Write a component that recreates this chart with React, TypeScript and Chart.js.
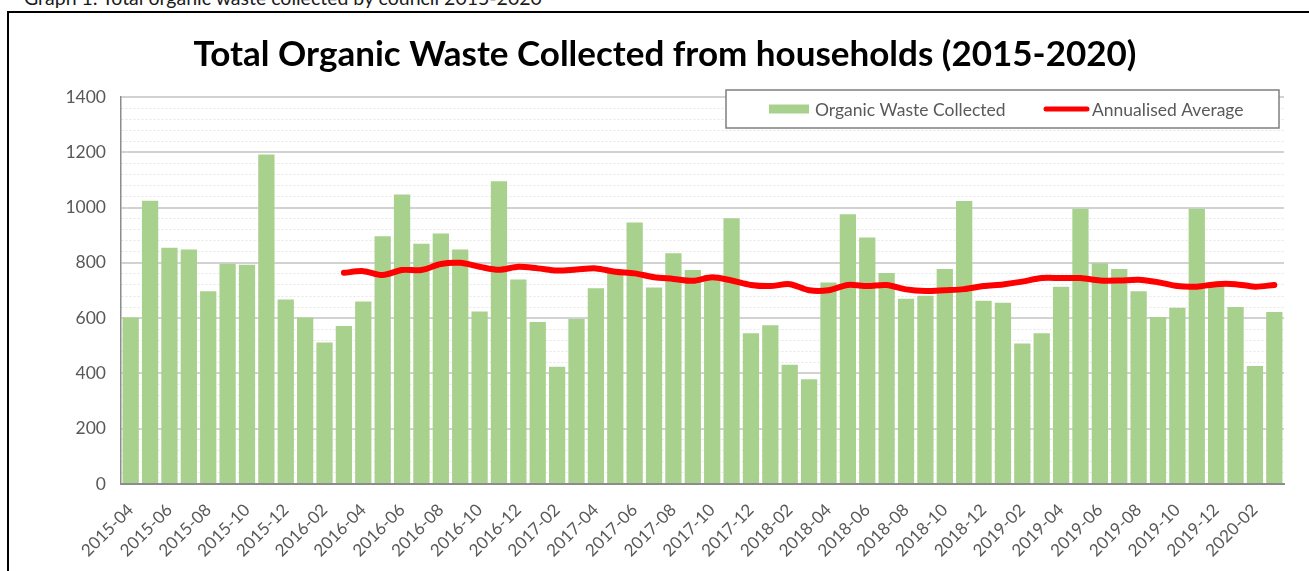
import React, { useEffect, useRef } from 'react';
import { Chart, registerables } from 'chart.js';

Chart.register(...registerables);

const months: string[] = [
  '2015-04', '2015-05', '2015-06', '2015-07', '2015-08', '2015-09', '2015-10', '2015-11', '2015-12',
  '2016-01', '2016-02', '2016-03', '2016-04', '2016-05', '2016-06', '2016-07', '2016-08', '2016-09', '2016-10', '2016-11', '2016-12',
  '2017-01', '2017-02', '2017-03', '2017-04', '2017-05', '2017-06', '2017-07', '2017-08', '2017-09', '2017-10', '2017-11', '2017-12',
  '2018-01', '2018-02', '2018-03', '2018-04', '2018-05', '2018-06', '2018-07', '2018-08', '2018-09', '2018-10', '2018-11', '2018-12',
  '2019-01', '2019-02', '2019-03', '2019-04', '2019-05', '2019-06', '2019-07', '2019-08', '2019-09', '2019-10', '2019-11', '2019-12',
  '2020-01', '2020-02', '2020-03',
];

const organicWasteCollected: number[] = [
  602, 1025, 855, 848, 697, 797, 793, 1192, 667,
  602, 512, 572, 660, 896, 1047, 869, 906, 848, 624, 1095, 740,
  586, 424, 597, 708, 765, 946, 711, 835, 774, 755, 961, 545,
  574, 431, 379, 729, 976, 892, 763, 670, 681, 778, 1024, 663,
  656, 508, 545, 714, 996, 799, 778, 697, 604, 638, 996, 714,
  640, 427, 622,
];

const annualisedAverage: (number | null)[] = [
  null, null, null, null, null, null, null, null, null,
  null, null, 764, 770, 756, 774, 774, 796, 800, 786, 775, 786,
  780, 772, 776, 780, 768, 762, 748, 742, 735, 748, 736, 720,
  716, 723, 701, 701, 720, 716, 720, 704, 698, 701, 705, 716,
  722, 732, 745, 745, 745, 736, 736, 739, 730, 716, 714, 723,
  723, 714, 720,
];

const seriesNames = ['Organic Waste Collected', 'Annualised Average'];
const chartTitle = 'Total Organic Waste Collected from households (2015-2020)';
const caption = 'Graph 1: Total organic waste collected by council 2015-2020';
const yMin = 0;
const yMax = 1400;
const yMajorStep = 200;
const yMinorStep = 40;

const FONT = 'Lato, "Open Sans", sans-serif';

const boxLegend = {
  id: 'boxLegend',
  afterDraw(chart: any) {
    const { ctx, chartArea } = chart;
    const right = chartArea.right - 5;
    const left = right - 553;
    const top = chartArea.top - 7;
    const h = 38;
    const cy = top + h / 2;
    ctx.save();
    ctx.fillStyle = '#ffffff';
    ctx.fillRect(left, top, right - left, h);
    ctx.strokeStyle = '#7f7f7f';
    ctx.lineWidth = 1.5;
    ctx.strokeRect(left, top, right - left, h);
    const ds0 = chart.data.datasets[0];
    const ds1 = chart.data.datasets[1];
    ctx.fillStyle = ds0.backgroundColor;
    ctx.fillRect(left + 43, cy - 4.5, 40, 9);
    ctx.font = '17.5px ' + FONT;
    ctx.fillStyle = '#595959';
    ctx.textBaseline = 'middle';
    ctx.textAlign = 'left';
    ctx.fillText(ds0.label, left + 89, cy + 1);
    ctx.strokeStyle = ds1.borderColor;
    ctx.lineWidth = 5;
    ctx.lineCap = 'round';
    ctx.beginPath();
    ctx.moveTo(left + 320, cy);
    ctx.lineTo(left + 361, cy);
    ctx.stroke();
    ctx.fillText(ds1.label, left + 366, cy + 1);
    ctx.restore();
  },
};

export default function App() {
  const canvasRef = useRef<HTMLCanvasElement | null>(null);

  useEffect(() => {
    if (!canvasRef.current) return;
    const chart = new Chart(canvasRef.current, {
      type: 'bar',
      data: {
        labels: months,
        datasets: [
          {
            type: 'bar',
            label: seriesNames[0],
            data: organicWasteCollected,
            backgroundColor: '#A9D18E',
            borderWidth: 0,
            barPercentage: 0.84,
            categoryPercentage: 1.0,
            order: 2,
          } as any,
          {
            type: 'line',
            label: seriesNames[1],
            data: annualisedAverage,
            borderColor: '#FF0000',
            backgroundColor: '#FF0000',
            borderWidth: 6,
            pointRadius: 0,
            tension: 0.3,
            borderCapStyle: 'round',
            borderJoinStyle: 'round',
            spanGaps: false,
            order: 1,
          } as any,
        ],
      },
      options: {
        responsive: false,
        animation: false,
        layout: { padding: { left: 46, right: 25, top: 0, bottom: 0 } },
        plugins: {
          legend: { display: false },
          tooltip: { enabled: false },
          title: {
            display: true,
            text: chartTitle,
            color: '#000000',
            font: { family: FONT, size: 35, weight: 'bold', lineHeight: 1.2 },
            padding: { top: 34, bottom: 21 },
          },
        },
        scales: {
          x: {
            grid: { display: false, drawTicks: false },
            border: { display: true, color: '#8c8c8c', width: 2 },
            ticks: {
              autoSkip: false,
              minRotation: 45,
              maxRotation: 45,
              padding: 16,
              color: '#595959',
              font: { family: FONT, size: 17 },
              callback: function (this: any, value: any, index: number) {
                return index % 2 === 0 ? this.getLabelForValue(value) : '';
              },
            },
            afterFit: (scale: any) => {
              scale.height = 87;
            },
          },
          y: {
            min: yMin,
            max: yMax,
            grid: {
              drawTicks: false,
              color: (ctx: any) => (ctx.tick && ctx.tick.value % yMajorStep === 0 ? '#d2d2d2' : '#e6e6e6'),
              lineWidth: (ctx: any) => (ctx.tick && ctx.tick.value % yMajorStep === 0 ? 2 : 1),
            },
            border: {
              display: true,
              color: '#8c8c8c',
              width: 1.5,
              dash: (ctx: any) => (ctx.tick && ctx.tick.value % yMajorStep === 0 ? [] : [2, 2]),
            } as any,
            ticks: {
              stepSize: yMinorStep,
              autoSkip: false,
              padding: 15,
              color: '#595959',
              font: { family: FONT, size: 17.5 },
              callback: (value: any) => (Number(value) % yMajorStep === 0 ? String(value) : ''),
            },
            afterFit: (scale: any) => {
              scale.width = 75;
            },
          },
        },
      },
      plugins: [boxLegend],
    });
    return () => chart.destroy();
  }, []);

  return (
    <div
      style={{
        position: 'fixed',
        left: 0,
        top: 0,
        width: 1309,
        height: 571,
        overflow: 'hidden',
        background: '#ffffff',
      }}
    >
      <div
        style={{
          position: 'absolute',
          left: 24,
          top: -14,
          fontFamily: FONT,
          fontSize: 19.5,
          color: '#1a1a1a',
          whiteSpace: 'nowrap',
        }}
      >
        {caption}
      </div>
      <div
        style={{
          position: 'absolute',
          left: 7,
          top: 11,
          width: 1400,
          height: 700,
          border: '2px solid #000000',
          boxSizing: 'border-box',
        }}
      />
      <canvas
        ref={canvasRef}
        width={1309}
        height={571}
        style={{ position: 'absolute', left: 0, top: 0, width: 1309, height: 571 }}
      />
    </div>
  );
}
